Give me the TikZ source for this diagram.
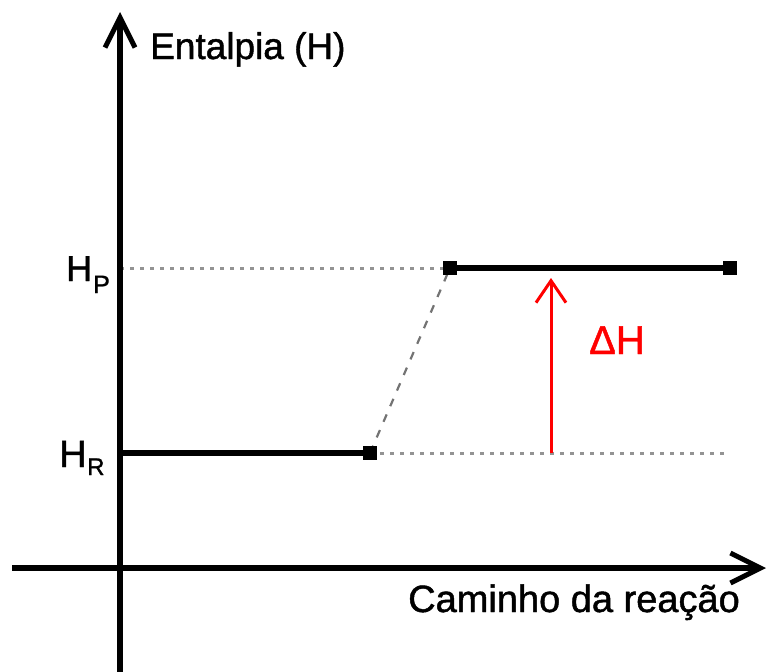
\documentclass[tikz,border=0pt]{standalone}
\usepackage{fontspec}
\setmainfont{Liberation Sans}
\newfontfamily\lab[FakeBold=1.2]{Liberation Sans}
\usetikzlibrary{arrows.meta}
\begin{document}
\begin{tikzpicture}[x=1pt,y=-1pt,
  axis/.style={line width=5.5pt,-{Straight Barb[length=30pt,width=30pt,line width=5pt]}},
  level/.style={line width=5.5pt},
  guide/.style={draw=gray!85,line width=3pt,dash pattern=on 4pt off 6pt},
  slope/.style={draw=gray!90!black,line width=2.2pt,dash pattern=on 8pt off 9pt},
  sq/.style={fill=black,minimum size=14pt,inner sep=0pt,outer sep=0pt},
  lbl/.style={inner sep=0pt,anchor=base west,font=\lab},
  dh/.style={red,line width=3pt,-{Straight Barb[length=22pt,width=30pt,line width=3pt]}}]
\useasboundingbox (0,0) rectangle (769,672);
% coordinates
\coordinate (yb) at (120,672);
\coordinate (yt) at (120,12);
\coordinate (xl) at (12,568);
\coordinate (xr) at (766,568);
\coordinate (r0) at (120,453);
\coordinate (hp0) at (120,268);
\coordinate (r1e) at (725,453);
\coordinate (dhb) at (551,453);
\coordinate (dht) at (551,278);
\coordinate (r1c) at (370,453);
\coordinate (p0c) at (450,268);
\coordinate (p1c) at (730,268);
% guides
\draw[guide] (hp0) -- (p0c);
\draw[guide] (r1c) -- (r1e);
\draw[slope] (r1c) -- (p0c);
% levels
\draw[level] (r0) -- (r1c);
\draw[level] (p0c) -- (p1c);
\node[sq] (r1) at (r1c) {};
\node[sq] (p0) at (p0c) {};
\node[sq] (p1) at (p1c) {};
% axes
\draw[axis] (yb) -- (yt);
\draw[axis] (xl) -- (xr);
% delta H
\draw[dh] (dhb) -- (dht);
% labels
\node[lbl] (ent) at (150,59) {\fontsize{37}{37}\selectfont Entalpia (H)};
\node[lbl] (cam) at (408,612) {\fontsize{38}{38}\selectfont Caminho da reação};
\node[lbl,text=red] (dhl) at (589,354) {\fontsize{40}{40}\selectfont ΔH};
\node[lbl] (hp) at (66,281) {\fontsize{36}{36}\selectfont H};
\node[lbl] (hps) at (93,293) {\fontsize{25}{25}\selectfont P};
\node[lbl] (hr) at (59,467) {\fontsize{38}{38}\selectfont H};
\node[lbl] (hrs) at (87,475) {\fontsize{24}{24}\selectfont R};
\end{tikzpicture}
\end{document}
